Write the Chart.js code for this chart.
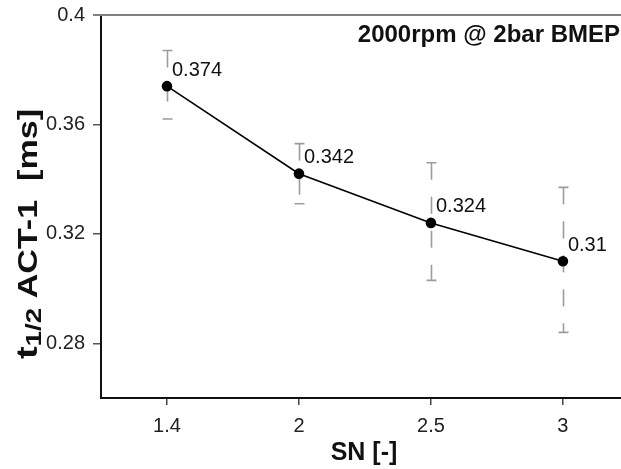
<!DOCTYPE html>
<html>
<head>
<meta charset="utf-8">
<script src="https://cdn.jsdelivr.net/npm/chart.js@4/dist/chart.umd.min.js"></script>
<style>
  html, body { margin: 0; padding: 0; background: #fff; overflow: hidden; }
  #wrap { width: 621px; height: 469px; }
</style>
</head>
<body>
<div id="wrap"><canvas id="snChart" width="621" height="469"></canvas></div>
<script>
// data
var categories = ["1.4", "2", "2.5", "3"];
var values = [0.374, 0.342, 0.324, 0.31];
var errUpper = [0.387, 0.353, 0.346, 0.337];
var errLower = [0.362, 0.331, 0.303, 0.284];
var pointLabels = ["0.374", "0.342", "0.324", "0.31"];
var yTicks = [0.28, 0.32, 0.36, 0.4];

var FONT = "'Liberation Sans', Arial, Helvetica, sans-serif";

/* gray dashed error bars with caps */
var errorBars = {
  id: "errorBars",
  beforeDatasetsDraw: function (chart) {
    var ctx = chart.ctx, xs = chart.scales.x, ys = chart.scales.y;
    ctx.save();
    ctx.strokeStyle = "#9c9c9c";
    ctx.lineWidth = 1.6;
    for (var i = 0; i < values.length; i++) {
      var x = Math.round(xs.getPixelForValue(i)) + 0.5;
      var yt = ys.getPixelForValue(errUpper[i]);
      var yb = ys.getPixelForValue(errLower[i]);
      ctx.setLineDash([17, 17]);
      ctx.beginPath();
      ctx.moveTo(x, yt);
      ctx.lineTo(x, yb);
      ctx.stroke();
      ctx.setLineDash([]);
      ctx.beginPath();
      ctx.moveTo(x - 5, yt); ctx.lineTo(x + 5, yt);
      ctx.moveTo(x - 5, yb); ctx.lineTo(x + 5, yb);
      ctx.stroke();
    }
    ctx.restore();
  }
};

/* value labels next to the points */
var valueLabels = {
  id: "valueLabels",
  afterDatasetsDraw: function (chart) {
    var ctx = chart.ctx;
    var meta = chart.getDatasetMeta(0);
    ctx.save();
    ctx.fillStyle = "#111";
    ctx.font = "20px " + FONT;
    ctx.textAlign = "left";
    ctx.textBaseline = "middle";
    meta.data.forEach(function (pt, i) {
      ctx.fillText(pointLabels[i], pt.x + 5, pt.y - 16);
    });
    ctx.restore();
  }
};

/* top frame line, chart title and axis titles */
var decorations = {
  id: "decorations",
  afterDraw: function (chart) {
    var ctx = chart.ctx, a = chart.chartArea;
    ctx.save();
    ctx.strokeStyle = "#808080";
    ctx.lineWidth = 2;
    ctx.beginPath();
    ctx.moveTo(a.left - 8, a.top);
    ctx.lineTo(a.right, a.top);
    ctx.stroke();

    ctx.fillStyle = "#111";
    ctx.font = "bold 24px " + FONT;
    ctx.textAlign = "right";
    ctx.textBaseline = "alphabetic";
    ctx.fillText("2000rpm @ 2bar BMEP", 620, 42);

    ctx.textAlign = "center";
    ctx.font = "bold 25px " + FONT;
    ctx.fillText("SN [-]", 364, 460);

    // y title with subscript, stretched along its length like the source font
    var parts = [
      { t: "t", f: "bold 30px " + FONT, dy: 0 },
      { t: "1/2", f: "bold 22px " + FONT, dy: 4 },
      { t: " ACT-1  [ms]", f: "bold 27px " + FONT, dy: 0 }
    ];
    var total = 0;
    parts.forEach(function (p) { ctx.font = p.f; p.w = ctx.measureText(p.t).width; total += p.w; });
    var stretch = 250 / total;
    ctx.translate(37, 234);
    ctx.rotate(-Math.PI / 2);
    ctx.scale(stretch, 1);
    ctx.textAlign = "left";
    var cx = -total / 2;
    parts.forEach(function (p) {
      ctx.font = p.f;
      ctx.fillText(p.t, cx, p.dy);
      cx += p.w;
    });
    ctx.restore();
  }
};

new Chart(document.getElementById("snChart"), {
  type: "line",
  data: {
    datasets: [{
      data: values.map(function (v, i) { return { x: i, y: v }; }),
      borderColor: "#000",
      borderWidth: 1.6,
      pointRadius: 4.5,
      pointBackgroundColor: "#000",
      pointBorderColor: "#000",
      tension: 0,
      fill: false
    }]
  },
  options: {
    responsive: false,
    devicePixelRatio: 1,
    animation: false,
    layout: { autoPadding: false, padding: { top: 15, left: 0, right: 0, bottom: 0 } },
    plugins: { legend: { display: false }, tooltip: { enabled: false } },
    scales: {
      x: {
        type: "linear",
        min: -0.5,
        max: 3.44,
        afterBuildTicks: function (s) {
          s.ticks = categories.map(function (c, i) { return { value: i }; });
        },
        afterFit: function (s) { s.height = 71; s.paddingLeft = 0; s.paddingRight = 0; },
        ticks: {
          color: "#222",
          font: { size: 20, family: FONT },
          padding: 9,
          maxRotation: 0,
          callback: function (v) { return categories[v]; }
        },
        grid: { drawOnChartArea: false, tickLength: 7, color: "#444", lineWidth: 1.5 },
        border: { color: "#111", width: 2 }
      },
      y: {
        min: 0.26,
        max: 0.4,
        afterBuildTicks: function (s) {
          s.ticks = yTicks.map(function (v) { return { value: v }; });
        },
        afterFit: function (s) { s.width = 101; s.paddingTop = 0; s.paddingBottom = 0; },
        ticks: {
          color: "#222",
          font: { size: 20, family: FONT },
          padding: 8,
          callback: function (v) { return String(parseFloat(v.toFixed(2))); }
        },
        grid: {
          drawOnChartArea: false,
          tickLength: 8,
          lineWidth: 1.5,
          color: function (c) { return c.tick && c.tick.value === 0.4 ? "#808080" : "#555"; }
        },
        border: { color: "#111", width: 2 }
      }
    }
  },
  plugins: [errorBars, valueLabels, decorations]
});
</script>
</body>
</html>
